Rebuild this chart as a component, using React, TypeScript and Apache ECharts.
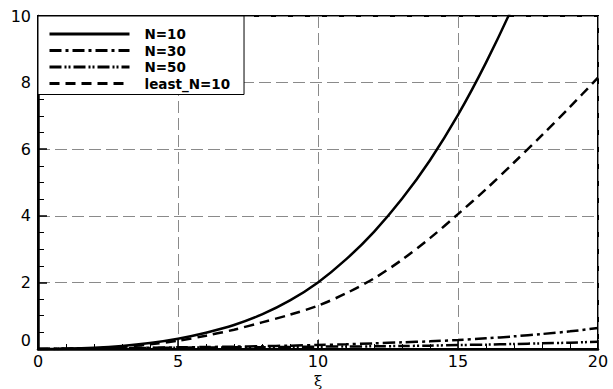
import React, { useEffect, useRef } from "react";
import * as echarts from "echarts";

const xs = [0, 1, 2, 3, 4, 5, 6, 7, 8, 9, 10, 11, 12, 13, 14, 15, 16, 17, 18, 19, 20];
const n10 = [0, 0.008, 0.035, 0.09, 0.18, 0.31, 0.49, 0.72, 1.04, 1.46, 2.0, 2.69, 3.52, 4.51, 5.67, 7.03, 8.6, 10.37, 12.4];
const n30 = [0, 0.01, 0.02, 0.03, 0.04, 0.05, 0.06, 0.07, 0.085, 0.1, 0.12, 0.14, 0.17, 0.2, 0.23, 0.27, 0.32, 0.38, 0.45, 0.53, 0.63];
const n50 = [0, 0.005, 0.01, 0.02, 0.03, 0.04, 0.045, 0.05, 0.055, 0.06, 0.07, 0.075, 0.08, 0.09, 0.1, 0.12, 0.13, 0.15, 0.17, 0.19, 0.22];
const least10 = [0, 0.005, 0.02, 0.06, 0.14, 0.25, 0.4, 0.58, 0.8, 1.03, 1.3, 1.67, 2.12, 2.68, 3.33, 4.05, 4.8, 5.6, 6.42, 7.27, 8.15];
const seriesNames = ["N=10", "N=30", "N=50", "least_N=10"];
const xTicks = [0, 5, 10, 15, 20];
const yTicks = [0, 2, 4, 6, 8, 10];

const FONT = '"DejaVu Sans", Arial, sans-serif';
const LEGEND_FONT = '"DejaVu Sans", Arial, sans-serif';

function pairs(ys: number[]) {
  return ys.map((y, i) => [xs[i], y]);
}

export default function App() {
  const ref = useRef<HTMLDivElement>(null);
  useEffect(() => {
    if (!ref.current) return;
    const chart = echarts.init(ref.current, null, { renderer: "svg" });
    const dashes: any[] = ["solid", [12, 4, 3, 4], [12, 3, 2, 2, 2, 3], [10, 6]];
    const datas = [n10, n30, n50, least10];
    chart.setOption({
      animation: false,
      backgroundColor: "#fff",
      grid: {
        left: 38,
        right: 15,
        top: 16,
        bottom: 40,
        containLabel: false,
        outerBoundsMode: "none",
        show: true,
        borderColor: "#000",
        borderWidth: 2,
        backgroundColor: "transparent",
      },
      legend: {
        show: true,
        orient: "vertical",
        left: 38,
        top: 16,
        padding: [11, 14, 4, 10],
        itemWidth: 80,
        itemHeight: 14,
        itemGap: 2.5,
        borderColor: "#000",
        borderWidth: 1,
        backgroundColor: "#fff",
        data: seriesNames.map((n) => ({ name: n })),
        lineStyle: { width: 3 },
        itemStyle: { color: "transparent", borderWidth: 0, opacity: 0 },
        textStyle: {
          fontFamily: LEGEND_FONT,
          fontWeight: "bold",
          fontSize: 13.5,
          color: "#000",
          padding: [0, 0, 0, 10],
        },
      },
      xAxis: {
        type: "value",
        min: xTicks[0],
        max: xTicks[xTicks.length - 1],
        interval: 5,
        name: "ξ",
        nameLocation: "middle",
        nameGap: 17,
        nameTextStyle: { fontFamily: "DejaVu Serif, serif", fontSize: 15, color: "#000" },
        axisLine: { show: true, lineStyle: { color: "#000", width: 2.5 } },
        axisTick: { show: true, inside: true, length: 9, lineStyle: { color: "#000", width: 1.5 } },
        minorTick: { show: true, splitNumber: 5, length: 5, lineStyle: { color: "#000", width: 1 } },
        axisLabel: { margin: 4, fontFamily: FONT, fontSize: 16, color: "#000" },
        splitLine: { show: true, lineStyle: { color: "#8a8a8a", width: 1, type: [12, 5] } },
      },
      yAxis: {
        type: "value",
        min: yTicks[0],
        max: yTicks[yTicks.length - 1],
        interval: 2,
        axisLine: { show: true, lineStyle: { color: "#000", width: 2.5 } },
        axisTick: { show: true, inside: true, length: 9, lineStyle: { color: "#000", width: 1.5 } },
        minorTick: { show: true, splitNumber: 4, length: 6, lineStyle: { color: "#000", width: 1 } },
        axisLabel: {
          margin: 7,
          fontFamily: FONT,
          fontSize: 16,
          color: "#000",
          formatter: (v: number) => (v === 0 ? "{z|0}" : String(v)),
          rich: { z: { fontFamily: FONT, fontSize: 16, color: "#000", padding: [0, 0, 18, 0] } },
        },
        splitLine: { show: true, lineStyle: { color: "#8a8a8a", width: 1, type: [12, 5] } },
      },
      series: datas.map((d, i) => ({
        name: seriesNames[i],
        type: "line",
        data: pairs(d),
        smooth: 0.3,
        symbol: "none",
        clip: true,
        lineStyle: { color: "#000", width: 2.5, type: dashes[i] },
        itemStyle: { color: "#000" },
        z: 3,
      })),
    });
    return () => chart.dispose();
  }, []);
  return (
    <div
      ref={ref}
      style={{ position: "absolute", left: 0, top: 0, width: 613, height: 389, background: "#fff" }}
    />
  );
}
